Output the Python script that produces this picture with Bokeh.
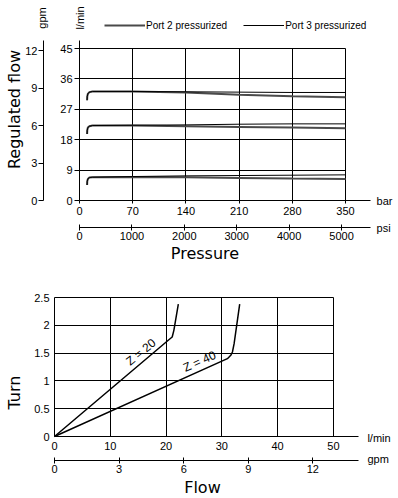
import math
from bokeh.plotting import figure
from bokeh.models import (Range1d, LinearAxis, FixedTicker, Label, Legend,
                          LegendItem, Grid)
from bokeh.layouts import column
from bokeh.embed import file_html
from bokeh.resources import INLINE

# ---------------- data: top chart (regulated flow vs pressure) ----------------
pressure_bar = [10, 10.2, 11, 13, 17, 70, 140, 210, 280, 350]
port2_high = [29.7, 30.8, 31.6, 32.1, 32.3, 32.3, 32.0, 31.3, 30.9, 30.6]
port2_mid = [19.7, 20.8, 21.6, 22.0, 22.2, 22.2, 22.0, 21.8, 21.6, 21.4]
port2_low = [4.6, 5.7, 6.4, 6.8, 6.9, 7.0, 6.9, 6.7, 6.5, 6.4]
port3_high = [29.7, 30.8, 31.6, 32.1, 32.3, 32.3, 32.2, 32.1, 32.0, 32.0]
port3_mid = [19.7, 20.8, 21.6, 22.0, 22.2, 22.3, 22.4, 22.6, 22.7, 22.7]
port3_low = [4.6, 5.7, 6.4, 6.8, 6.9, 7.1, 7.3, 7.4, 7.5, 7.6]

bar_ticks = [0, 70, 140, 210, 280, 350]
psi_ticks = [0, 1000, 2000, 3000, 4000, 5000]
lmin_ticks_top = [0, 9, 18, 27, 36, 45]
gpm_ticks_top = [0, 3, 6, 9, 12]

# ---------------- data: bottom chart (turn vs flow) ----------------
z20_flow = [0, 20.5, 21.1, 21.4, 22.2]
z20_turn = [0, 1.74, 1.79, 1.91, 2.38]
z40_flow = [0, 31.0, 31.6, 31.9, 32.2, 33.2]
z40_turn = [0, 1.40, 1.46, 1.52, 1.67, 2.38]

flow_ticks = [0, 10, 20, 30, 40, 50]
flow_gpm_ticks = [0, 3, 6, 9, 12]
turn_ticks = [0, 0.5, 1, 1.5, 2, 2.5]
turn_labels = ["0", "0.5", "1", "1.5", "2", "2.5"]

# unit conversions / axis extents
BAR_TO_PSI = 14.5038
LMIN_PER_GPM_TOP = 3.7
LMIN_PER_GPM_BOT = 3.86
BAR_AXIS_END = 383
LMIN_AXIS_END = 47.4
FLOW_AXIS_END = 54.5
TURN_AXIS_END = 2.5

SANS = "Liberation Sans"
TITLE = "DejaVu Sans"
BLACK = "#000000"
TICK_SIZE = "11px"


def style_axis(ax, tick_in=0, tick_out=3, standoff=3):
    ax.axis_line_color = BLACK
    ax.axis_line_width = 1
    ax.major_tick_line_color = BLACK
    ax.major_tick_in = tick_in
    ax.major_tick_out = tick_out
    ax.minor_tick_line_color = None
    ax.major_label_standoff = standoff
    ax.major_label_text_font = SANS
    ax.major_label_text_font_size = TICK_SIZE
    ax.major_label_text_color = BLACK


def txt(p, x, y, text, size=TICK_SIZE, font=SANS, angle=0.0, align="left"):
    p.add_layout(Label(x=x, y=y, text=text, angle=angle, text_align=align,
                       text_baseline="middle", text_font_size=size,
                       text_font=font, text_color=BLACK))


def bare_figure(w, h, xr, yr):
    p = figure(width=w, height=h, output_backend="svg", toolbar_location=None,
               x_range=Range1d(*xr), y_range=Range1d(*yr),
               x_axis_type=None, y_axis_type=None,
               min_border_left=0, min_border_right=0, min_border_top=0,
               min_border_bottom=0)
    p.outline_line_color = None
    p.background_fill_color = "white"
    p.border_fill_color = "white"
    return p


# ======================= TOP FIGURE =======================
# frame covers the whole canvas; axes are drawn at fixed locations
p1 = bare_figure(398, 270, (-103.95, 419.7), (-20.73, 59.24))
p1.extra_y_ranges = {"gpm": Range1d(-20.73 / LMIN_PER_GPM_TOP,
                                    59.24 / LMIN_PER_GPM_TOP)}
p1.extra_x_ranges = {"psi": Range1d(-103.95 * BAR_TO_PSI, 419.7 * BAR_TO_PSI)}

p1.add_layout(Grid(dimension=0, ticker=FixedTicker(ticks=bar_ticks[1:]),
                   grid_line_color=BLACK, grid_line_width=1,
                   cross_bounds=(0, 45)))
p1.add_layout(Grid(dimension=1, ticker=FixedTicker(ticks=lmin_ticks_top[1:]),
                   grid_line_color=BLACK, grid_line_width=1,
                   cross_bounds=(0, 350)))

ax_l = LinearAxis(ticker=FixedTicker(ticks=lmin_ticks_top), fixed_location=0,
                  bounds=(0, LMIN_AXIS_END))
style_axis(ax_l, tick_out=5, standoff=2)
ax_g = LinearAxis(y_range_name="gpm", ticker=FixedTicker(ticks=gpm_ticks_top),
                  fixed_location=-47.4,
                  bounds=(0, LMIN_AXIS_END / LMIN_PER_GPM_TOP))
style_axis(ax_g, tick_out=5, standoff=1)
p1.add_layout(ax_l, "left")
p1.add_layout(ax_g, "left")

ax_b = LinearAxis(ticker=FixedTicker(ticks=bar_ticks), fixed_location=0,
                  bounds=(0, BAR_AXIS_END))
style_axis(ax_b, tick_out=3, standoff=3)
ax_p = LinearAxis(x_range_name="psi", ticker=FixedTicker(ticks=psi_ticks),
                  fixed_location=-8.0, bounds=(0, BAR_AXIS_END * BAR_TO_PSI))
style_axis(ax_p, tick_in=3, tick_out=3, standoff=1)
p1.add_layout(ax_b, "below")
p1.add_layout(ax_p, "below")

P2C = "#4a4a4a"
r2 = None
for ys in (port2_high, port2_mid, port2_low):
    r = p1.line(pressure_bar, ys, line_color=P2C, line_width=2)
    r2 = r2 or r
r3 = None
for ys in (port3_high, port3_mid, port3_low):
    r = p1.line(pressure_bar, ys, line_color=BLACK, line_width=1)
    r3 = r3 or r

legend = Legend(items=[LegendItem(label="Port 2 pressurized", renderers=[r2]),
                       LegendItem(label="Port 3 pressurized", renderers=[r3])],
                orientation="horizontal", location=(104, 239),
                glyph_width=41, glyph_height=12, label_height=12,
                label_standoff=1, spacing=16, padding=0, margin=0,
                border_line_color=None, background_fill_alpha=0,
                label_text_font=SANS, label_text_font_size="10px",
                label_text_color=BLACK)
p1.add_layout(legend)

txt(p1, -49.3, 54.06, "gpm", angle=math.pi / 2, align="center")
txt(p1, 0.66, 54.06, "l/min", angle=math.pi / 2, align="center")
txt(p1, 390.8, 0, "bar")
txt(p1, 390.8, -8.0, "psi")
txt(p1, -85.5, 26.95, "Regulated flow", size="16px", font=TITLE,
    angle=math.pi / 2, align="center")
txt(p1, 165.1, -15.7, "Pressure", size="16px", font=TITLE, align="center")

# ======================= BOTTOM FIGURE =======================
p2 = bare_figure(398, 227, (-9.68, 61.67), (-1.097, 2.986))
p2.extra_x_ranges = {"gpm": Range1d(-9.68 / LMIN_PER_GPM_BOT,
                                    61.67 / LMIN_PER_GPM_BOT)}

p2.add_layout(Grid(dimension=0, ticker=FixedTicker(ticks=flow_ticks[1:]),
                   grid_line_color=BLACK, grid_line_width=1,
                   cross_bounds=(0, 2.5)))
p2.add_layout(Grid(dimension=1, ticker=FixedTicker(ticks=turn_ticks[1:]),
                   grid_line_color=BLACK, grid_line_width=1,
                   cross_bounds=(0, 50)))

ax_t = LinearAxis(ticker=FixedTicker(ticks=turn_ticks), fixed_location=0,
                  bounds=(0, TURN_AXIS_END),
                  major_label_overrides=dict(zip(turn_ticks, turn_labels)))
style_axis(ax_t, tick_out=0, standoff=5)
p2.add_layout(ax_t, "left")

ax_f = LinearAxis(ticker=FixedTicker(ticks=flow_ticks), fixed_location=0,
                  bounds=(0, FLOW_AXIS_END))
style_axis(ax_f, tick_out=0, standoff=5)
ax_fg = LinearAxis(x_range_name="gpm", ticker=FixedTicker(ticks=flow_gpm_ticks),
                   fixed_location=-0.44,
                   bounds=(0, FLOW_AXIS_END / LMIN_PER_GPM_BOT))
style_axis(ax_fg, tick_in=3, tick_out=3, standoff=1)
p2.add_layout(ax_f, "below")
p2.add_layout(ax_fg, "below")

p2.line(z20_flow, z20_turn, line_color=BLACK, line_width=1.5)
p2.line(z40_flow, z40_turn, line_color=BLACK, line_width=1.5)

txt(p2, 15.5, 1.52, "Z = 20", size="12px", angle=math.radians(39.5),
    align="center")
txt(p2, 26.0, 1.35, "Z = 40", size="12px", angle=math.radians(24),
    align="center")
txt(p2, 56.1, -0.02, "l/min")
txt(p2, 56.1, -0.41, "gpm")
txt(p2, -7.17, 0.79, "Turn", size="16px", font=TITLE, angle=math.pi / 2,
    align="center")
txt(p2, 26.53, -0.917, "Flow", size="16px", font=TITLE, align="center")

layout = column(p1, p2)
open("out.html", "w").write(file_html(layout, INLINE))
